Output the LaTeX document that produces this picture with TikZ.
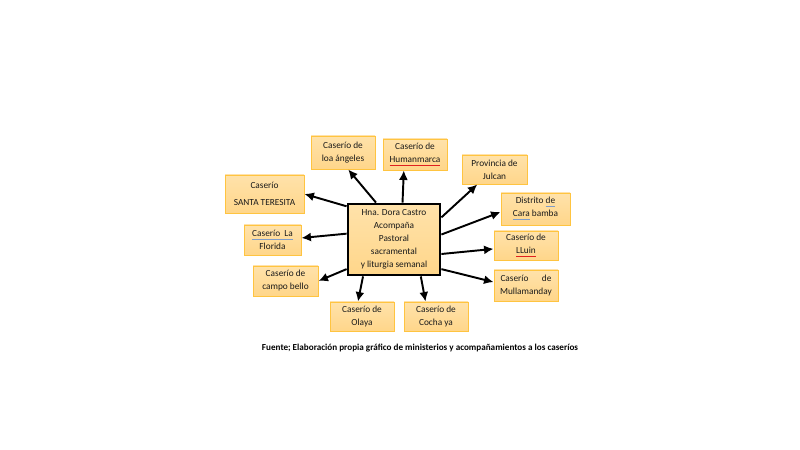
\documentclass[tikz,border=0pt]{standalone}
\usepackage{fontspec}
\setmainfont{Carlito}
\usepackage{tikz}
\usetikzlibrary{arrows.meta,positioning}
\definecolor{boxfill}{HTML}{FFD68A}
\definecolor{boxtop}{HTML}{FFE2AA}
\definecolor{boxline}{HTML}{FFC440}
\definecolor{ink}{HTML}{1A1A1A}
\definecolor{spellred}{HTML}{E02020}
\definecolor{spellblue}{HTML}{7F9CC8}
\newcommand{\redmark}[1]{{\color{spellred}\underline{\color{ink}#1}}}
\newcommand{\bluemark}[1]{{\color{spellblue}\underline{\color{ink}#1}}}
\tikzset{
  casbox/.style = {rectangle, draw=boxline, line width=0.5pt, top color=boxtop, bottom color=boxfill,
                   text=ink, align=center, font=\fontsize{5.3}{7.4}\selectfont, inner sep=0pt,
                   minimum width=12.8mm, minimum height=6mm},
  hubbox/.style = {casbox, draw=black, line width=1.6pt, minimum width=18.4mm, minimum height=14.2mm},
  ar/.style     = {-{Latex[length=1.9mm,width=1.8mm]}, line width=1.1pt, draw=black},
  note/.style   = {font=\fontsize{5.2}{6}\selectfont\bfseries, text=black, inner sep=0pt},
}
\begin{document}
\begin{tikzpicture}[x=0.2mm, y=-0.2mm]
\useasboundingbox[fill=white] (0,0) rectangle (800,450);
\node[hubbox] (cen) at (394,239.5) {Hna. Dora Castro\\Acompaña\\Pastoral\\sacramental\\y liturgia semanal};
% caserios
\node[casbox, minimum width=15.8mm, minimum height=7.6mm] (ter) at (264.5,194) {Caserío\\[2.6pt]SANTA TERESITA};
\node[casbox, minimum height=6.6mm] (ang) at (343,152.5) {Caserío de\\loa ángeles};
\node[casbox, minimum height=6.2mm] (hum) at (415,154.5) {Caserío de\\\redmark{Humanmarca}};
\node[casbox, minimum width=13mm, minimum height=5.8mm] (jul) at (494.5,169.5) {Provincia de\\Julcan};
\node[casbox, minimum width=13.8mm, minimum height=6.4mm] (car) at (535.5,209) {Distrito \bluemark{de}\\\bluemark{Cara} bamba};
\node[casbox, minimum height=5.8mm] (llu) at (526,245.5) {Caserío de\\\redmark{LLuin}};
\node[casbox, minimum height=6.2mm] (mul) at (526,285.5) {\hbox to 10.2mm{Caserío\hfill de}\\Mullamanday};
\node[casbox, minimum height=5.8mm] (ola) at (362,316.5) {Caserío de\\Olaya};
\node[casbox, minimum height=5.8mm] (coc) at (436,316.5) {Caserío de\\Cocha ya};
\node[casbox, minimum width=13mm] (cam) at (285.5,281) {Caserío de\\campo bello};
\node[casbox, minimum width=11.4mm] (flo) at (272.5,240) {\bluemark{Caserío\ \ La}\\Florida};
% edges
\draw[ar] (cen.145) -- (ter.east);
\draw[ar] (cen.116) -- (ang.287);
\draw[ar] (cen.77) -- (hum.235);
\draw[ar] (cen.25) -- (jul.221);
\draw[ar] (cen.6) -- (car.185);
\draw[ar] (cen.343) -- (llu.186);
\draw[ar] (cen.328) -- (mul.174);
\draw[ar] (cen.306) -- (coc.125);
\draw[ar] (cen.230) -- (ola.105);
\draw[ar] (cen.212) -- (cam.east);
\draw[ar] (cen.173) -- (flo.4);
\node[note] (src) at (420,348) {Fuente; Elaboración propia gráfico de ministerios y acompañamientos a los caseríos};
\end{tikzpicture}
\end{document}
